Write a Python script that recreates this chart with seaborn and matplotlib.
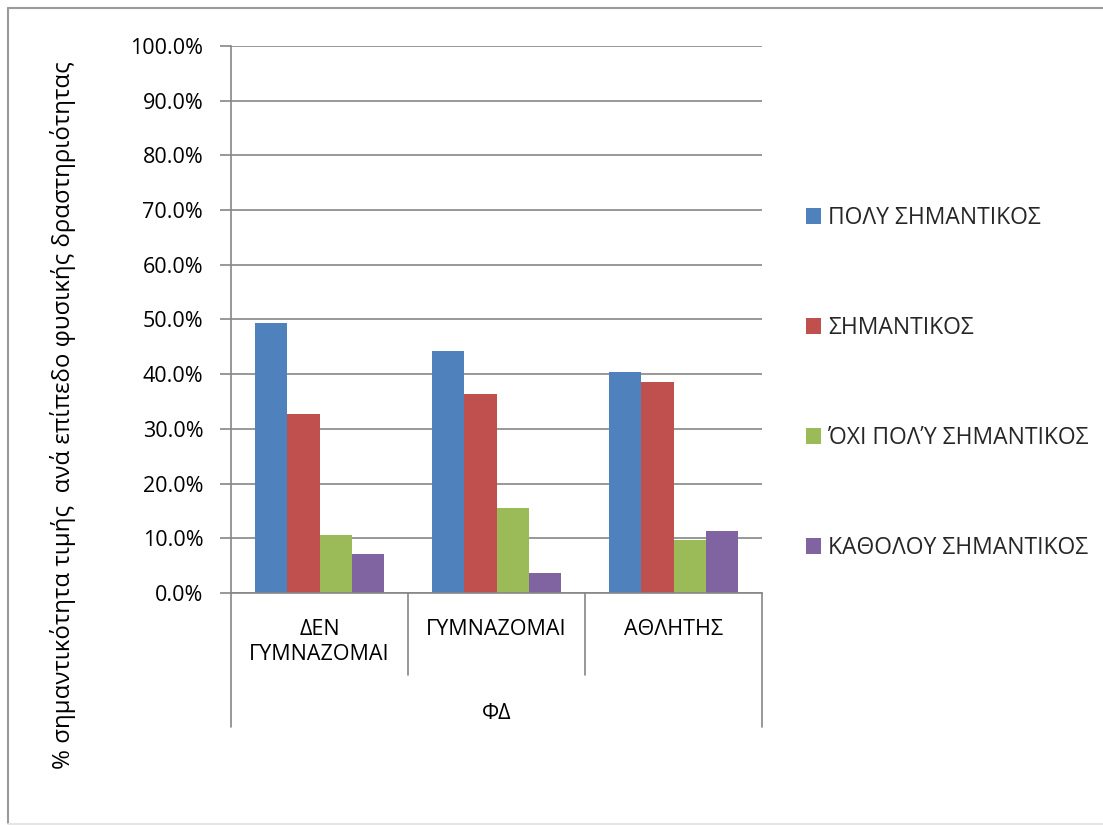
import matplotlib
matplotlib.use("Agg")
import matplotlib.pyplot as plt
import seaborn as sns
import pandas as pd
from matplotlib.ticker import FuncFormatter, MultipleLocator
from matplotlib.lines import Line2D

# ---- data ----
categories = ["ΔΕΝ\nΓΥΜΝΑΖΟΜΑΙ", "ΓΥΜΝΑΖΟΜΑΙ", "ΑΘΛΗΤΗΣ"]
series = ["ΠΟΛΥ ΣΗΜΑΝΤΙΚΟΣ", "ΣΗΜΑΝΤΙΚΟΣ", "ΌΧΙ ΠΟΛΎ ΣΗΜΑΝΤΙΚΟΣ", "ΚΑΘΟΛΟΥ ΣΗΜΑΝΤΙΚΟΣ"]
poly = [49.3, 44.2, 40.4]
simantikos = [32.7, 36.4, 38.5]
oxi_poly = [10.6, 15.5, 9.6]
katholou = [7.2, 3.7, 11.4]
colors = ["#4F81BD", "#C0504D", "#9BBB59", "#8064A2"]
y_label = "% σημαντικότητα τιμής  ανά επίπεδο φυσικής δραστηριότητας"
x_label = "ΦΔ"

rows = []
for s, vals in zip(series, [poly, simantikos, oxi_poly, katholou]):
    for c, v in zip(categories, vals):
        rows.append({"cat": c, "series": s, "val": v})
df = pd.DataFrame(rows)

sns.set_theme(style="white")
plt.rcParams["font.family"] = ["Open Sans", "DejaVu Sans"]
FS = 15.5
FS_LEG = 16.5
FS_YL = 17.3

W, H = 1103, 825
fig = plt.figure(figsize=(W / 100, H / 100), dpi=100)
ax = fig.add_axes([231 / W, 1 - 593 / H, (762 - 231) / W, (593 - 46) / H])

sns.barplot(data=df, x="cat", y="val", hue="series", order=categories,
            hue_order=series, palette=colors, width=0.727, saturation=1,
            edgecolor="none", ax=ax, legend=True)

ax.set_ylim(0, 100)
ax.set_xlim(-0.5, 2.5)
ax.yaxis.set_major_locator(MultipleLocator(10))
ax.yaxis.set_major_formatter(FuncFormatter(lambda v, p: f"{v:.1f}%"))
ax.grid(axis="y", color="#868686", linewidth=1.2)
ax.set_axisbelow(True)
for side in ["top", "right"]:
    ax.spines[side].set_visible(False)
for side in ["left", "bottom"]:
    ax.spines[side].set_color("#868686")
    ax.spines[side].set_linewidth(1.2)
ax.tick_params(axis="y", which="major", left=True, length=8, width=1.2,
               color="#868686", pad=12, labelsize=FS, labelcolor="black")
ax.tick_params(axis="x", length=0, pad=19, labelsize=FS, labelcolor="black")
ax.set_ylabel("")
ax.set_xlabel(x_label, fontsize=FS, color="black")
ax.xaxis.set_label_coords(0.5, -0.201)

# category-axis separators (multi-level)
tr = ax.get_xaxis_transform()
for xv, ybot in [(-0.5, -0.245), (0.5, -0.150), (1.5, -0.150), (2.5, -0.245)]:
    ax.add_line(Line2D([xv, xv], [0, ybot], transform=tr, color="#868686",
                       linewidth=1.2, clip_on=False))

# legend
handles, labels = ax.get_legend_handles_labels()
ax.get_legend().remove()
fig.legend(handles, labels, loc="upper left", bbox_to_anchor=(797 / W, 1 - 197 / H),
           frameon=False, fontsize=FS_LEG, handlelength=0.66, handleheight=0.66,
           handletextpad=0.3, labelspacing=3.75, borderaxespad=0)

# y label
fig.text(63 / W, 1 - 415 / H, y_label, rotation=90, ha="center", va="center",
         fontsize=FS_YL, color="black")

# chart border (left/top gray, bottom faint)
ff = fig.transFigure
fig.add_artist(Line2D([7.5 / W, 7.5 / W], [1 - 8 / H, 1 - 823 / H], transform=ff,
                      color="#9a9a9a", linewidth=1.5))
fig.add_artist(Line2D([7.5 / W, 1.0], [1 - 8 / H, 1 - 8 / H], transform=ff,
                      color="#9a9a9a", linewidth=1.5))
fig.add_artist(Line2D([7.5 / W, 1.0], [1 - 823.5 / H, 1 - 823.5 / H], transform=ff,
                      color="#e0e0e0", linewidth=1.2))

fig.savefig("out.png", dpi=100, facecolor="white")
